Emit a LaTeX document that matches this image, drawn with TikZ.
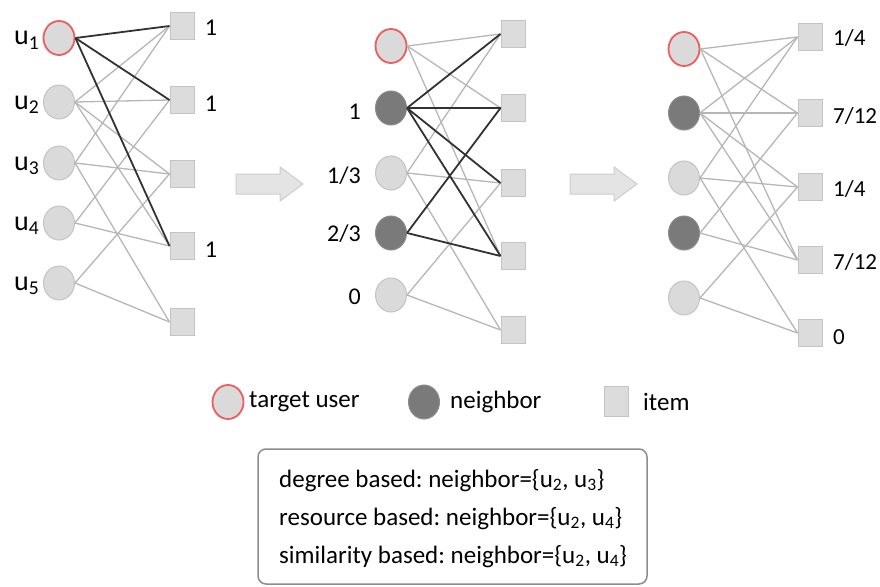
\documentclass[tikz,border=0pt]{standalone}
\usepackage{fontspec}
\setmainfont{Carlito}
\usetikzlibrary{shapes.geometric}
\definecolor{ufill}{RGB}{218,218,218}
\definecolor{uline}{RGB}{196,196,196}
\definecolor{tline}{RGB}{238,92,92}
\definecolor{nfill}{RGB}{122,122,122}
\definecolor{nline}{RGB}{140,140,140}
\definecolor{ifill}{RGB}{220,220,220}
\definecolor{iline}{RGB}{196,196,196}
\definecolor{egray}{RGB}{182,182,182}
\definecolor{edark}{RGB}{50,50,50}
\definecolor{afill}{RGB}{228,228,228}
\definecolor{aline}{RGB}{205,205,205}
\definecolor{boxline}{RGB}{140,140,140}
\frenchspacing
\begin{document}
\begin{tikzpicture}[x=1pt,y=-1pt,
  user/.style={ellipse, minimum width=31pt, minimum height=34pt, inner sep=0pt, fill=ufill, draw=uline, line width=1pt},
  target/.style={user, draw=tline, line width=1.8pt},
  nb/.style={user, fill=nfill, draw=nline},
  item/.style={rectangle, minimum width=24pt, minimum height=27pt, inner sep=0pt, fill=ifill, draw=iline, line width=1pt},
  ge/.style={draw=egray, line width=1.3pt},
  de/.style={draw=edark, line width=1.8pt},
  ulab/.style={font=\fontsize{28}{28}\selectfont, inner sep=0pt, anchor=base west},
  nlab/.style={font=\fontsize{24}{24}\selectfont, inner sep=0pt},
  mlab/.style={font=\fontsize{24}{24}\selectfont, inner sep=0pt},
  rlab/.style={font=\fontsize{23}{23}\selectfont, inner sep=0pt},
  leg/.style={font=\fontsize{25}{25}\selectfont, inner sep=0pt, anchor=west},
  boxtxt/.style={font=\fontsize{25}{25}\selectfont, inner sep=0pt, anchor=base west},
  bigarrow/.style={fill=afill, draw=aline, line width=1pt, line join=miter}
]
\useasboundingbox (0,0) rectangle (880,586);

% ---------- panel 1 ----------
\node[target] (a1) at (59,38) {};
\node[user] (a2) at (59,102) {};
\node[user] (a3) at (59,163) {};
\node[user] (a4) at (59,223) {};
\node[user] (a5) at (59,283) {};
\node[item] (p1) at (182,26) {};
\node[item] (p2) at (182,100) {};
\node[item] (p3) at (182,174) {};
\node[item] (p4) at (182,246) {};
\node[item] (p5) at (182,322) {};
\foreach \u/\i in {2/1,2/2,2/3,2/4,3/1,3/3,3/5,4/2,4/4,5/3,5/5}
  \draw[ge] (a\u.east) -- (p\i.west);
\foreach \u/\i in {1/1,1/2,1/4}
  \draw[de] (a\u.east) -- (p\i.west);
\foreach \k/\y in {1/45,2/109,3/170,4/230,5/290}
  \node[ulab] (ul\k) at (14,\y) {u\textsubscript{\k}};
\node[nlab] (pl1) at (211,28) {1};
\node[nlab] (pl2) at (211,104) {1};
\node[nlab] (pl4) at (211,250) {1};

% ---------- panel 2 ----------
\node[target] (b1) at (391,46) {};
\node[nb] (b2) at (391,108) {};
\node[user] (b3) at (391,173) {};
\node[nb] (b4) at (391,233) {};
\node[user] (b5) at (391,295) {};
\node[item] (q1) at (513,34) {};
\node[item] (q2) at (513,108) {};
\node[item] (q3) at (513,183) {};
\node[item] (q4) at (513,256) {};
\node[item] (q5) at (513,330) {};
\foreach \u/\i in {1/1,1/2,1/4,3/1,3/3,3/5,5/3,5/5}
  \draw[ge] (b\u.east) -- (q\i.west);
\foreach \u/\i in {2/1,2/2,2/3,2/4,4/2,4/4}
  \draw[de] (b\u.east) -- (q\i.west);
\node[mlab, anchor=east] (bl2) at (361,112) {1};
\node[mlab, anchor=east] (bl3) at (361,176) {1/3};
\node[mlab, anchor=east] (bl4) at (361,234) {2/3};
\node[mlab, anchor=east] (bl5) at (361,297) {0};

% ---------- panel 3 ----------
\node[target] (c1) at (684,49) {};
\node[nb] (c2) at (684,113) {};
\node[user] (c3) at (684,178) {};
\node[nb] (c4) at (684,233) {};
\node[user] (c5) at (684,298) {};
\node[item] (r1) at (810,37) {};
\node[item] (r2) at (810,113) {};
\node[item] (r3) at (810,187) {};
\node[item] (r4) at (810,260) {};
\node[item] (r5) at (810,333) {};
\foreach \u/\i in {1/1,1/2,1/4,2/1,2/2,2/3,2/4,3/1,3/3,3/5,4/2,4/4,5/3,5/5}
  \draw[ge] (c\u.east) -- (r\i.west);
\node[rlab, anchor=west] (rl1) at (833,38) {1/4};
\node[rlab, anchor=west] (rl2) at (833,116) {7/12};
\node[rlab, anchor=west] (rl3) at (833,189) {1/4};
\node[rlab, anchor=west] (rl4) at (833,262) {7/12};
\node[rlab, anchor=west] (rl5) at (833,337) {0};

% ---------- arrows ----------
\draw[bigarrow] (236,174) -- (280,174) -- (280,167) -- (303,184) -- (280,201) -- (280,194) -- (236,194) -- cycle;
\draw[bigarrow] (570,174) -- (614,174) -- (614,167) -- (637,184) -- (614,201) -- (614,194) -- (570,194) -- cycle;

% ---------- legend ----------
\node[target] (lt) at (228,402) {};
\node[leg] (ltt) at (249,402) {target user};
\node[nb] (ln) at (424,402) {};
\node[leg] (lnt) at (450,402) {neighbor};
\node[item, minimum height=30pt] (li) at (616,401) {};
\node[leg] (lit) at (643,402) {item};

% ---------- box ----------
\draw[boxline, line width=1.5pt, rounded corners=8pt] (258,449) rectangle (647,584);
\node[boxtxt] (t1) at (279,487) {degree based: neighbor=\{u\textsubscript{2}, u\textsubscript{3}\}};
\node[boxtxt] (t2) at (279,525) {resource based: neighbor=\{u\textsubscript{2}, u\textsubscript{4}\}};
\node[boxtxt] (t3) at (279,563) {similarity based: neighbor=\{u\textsubscript{2}, u\textsubscript{4}\}};
\end{tikzpicture}
\end{document}
